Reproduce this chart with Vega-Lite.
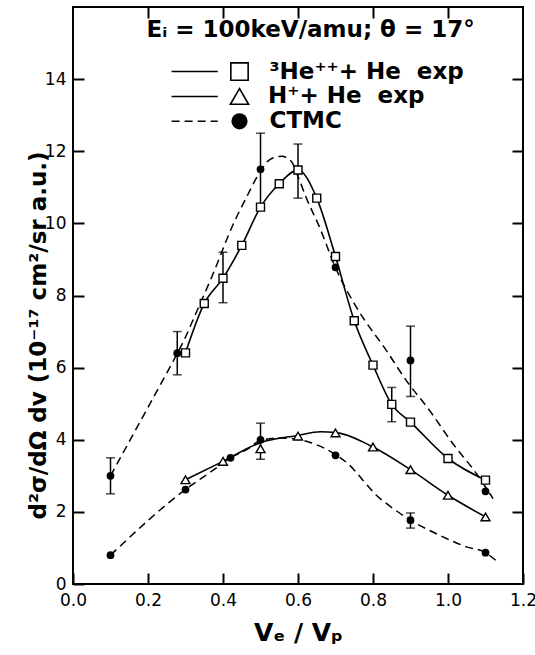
{
  "$schema": "https://vega.github.io/schema/vega-lite/v6.json",
  "width": 450,
  "height": 577,
  "autosize": {"type": "none"},
  "padding": {"left": 73, "top": 7, "right": 12, "bottom": 71},
  "background": "white",
  "config": {
    "font": "DejaVu Sans",
    "view": {"stroke": "black", "strokeWidth": 2},
    "axis": {
      "domain": false, "grid": false,
      "tickColor": "black", "tickWidth": 2, "tickSize": -11,
      "labelColor": "black", "labelFont": "DejaVu Sans", "labelFontSize": 17,
      "titleColor": "black", "titleFont": "DejaVu Sans",
      "labelFlush": false, "labelOverlap": false
    }
  },
  "datasets": {
    "he3": [
      {"v": 0.3, "s": 6.41}, {"v": 0.35, "s": 7.78}, {"v": 0.4, "s": 8.48}, {"v": 0.45, "s": 9.39},
      {"v": 0.5, "s": 10.45}, {"v": 0.55, "s": 11.1}, {"v": 0.6, "s": 11.48}, {"v": 0.65, "s": 10.7},
      {"v": 0.7, "s": 9.08}, {"v": 0.75, "s": 7.3}, {"v": 0.8, "s": 6.07}, {"v": 0.85, "s": 4.98},
      {"v": 0.9, "s": 4.49}, {"v": 1.0, "s": 3.48}, {"v": 1.1, "s": 2.88}
    ],
    "h": [
      {"v": 0.3, "s": 2.89}, {"v": 0.4, "s": 3.4}, {"v": 0.5, "s": 3.75}, {"v": 0.6, "s": 4.1},
      {"v": 0.7, "s": 4.19}, {"v": 0.8, "s": 3.8}, {"v": 0.9, "s": 3.17}, {"v": 1.0, "s": 2.46},
      {"v": 1.1, "s": 1.86}
    ],
    "h_curve": [
      {"v": 0.3, "s": 2.89}, {"v": 0.4, "s": 3.4}, {"v": 0.5, "s": 3.92}, {"v": 0.6, "s": 4.12},
      {"v": 0.66, "s": 4.22}, {"v": 0.7, "s": 4.2}, {"v": 0.8, "s": 3.8}, {"v": 0.9, "s": 3.17},
      {"v": 1.0, "s": 2.46}, {"v": 1.1, "s": 1.86}
    ],
    "ctmc": [
      {"v": 0.1, "s": 3.0}, {"v": 0.278, "s": 6.4}, {"v": 0.5, "s": 11.5}, {"v": 0.7, "s": 8.78},
      {"v": 0.9, "s": 6.2}, {"v": 1.1, "s": 2.57},
      {"v": 0.1, "s": 0.8}, {"v": 0.3, "s": 2.62}, {"v": 0.42, "s": 3.5}, {"v": 0.5, "s": 4.0},
      {"v": 0.7, "s": 3.57}, {"v": 0.9, "s": 1.77}, {"v": 1.1, "s": 0.87}
    ],
    "ctmc_hi": [
      {"v": 0.1, "s": 3.0}, {"v": 0.15, "s": 3.95}, {"v": 0.2, "s": 4.9}, {"v": 0.25, "s": 5.85},
      {"v": 0.3, "s": 6.85}, {"v": 0.325, "s": 7.44}, {"v": 0.373, "s": 8.59}, {"v": 0.427, "s": 9.97},
      {"v": 0.462, "s": 10.71}, {"v": 0.5, "s": 11.45}, {"v": 0.525, "s": 11.77}, {"v": 0.556, "s": 11.86},
      {"v": 0.582, "s": 11.72}, {"v": 0.6, "s": 11.3}, {"v": 0.622, "s": 10.71}, {"v": 0.658, "s": 9.88},
      {"v": 0.7, "s": 8.77}, {"v": 0.756, "s": 7.67}, {"v": 0.836, "s": 6.47}, {"v": 0.889, "s": 5.64},
      {"v": 0.951, "s": 4.81}, {"v": 1.013, "s": 3.89}, {"v": 1.076, "s": 3.06}, {"v": 1.12, "s": 2.37}
    ],
    "ctmc_lo": [
      {"v": 0.1, "s": 0.8}, {"v": 0.3, "s": 2.62}, {"v": 0.373, "s": 3.15}, {"v": 0.42, "s": 3.5},
      {"v": 0.462, "s": 3.72}, {"v": 0.5, "s": 3.98}, {"v": 0.55, "s": 4.05}, {"v": 0.587, "s": 4.03},
      {"v": 0.631, "s": 3.93}, {"v": 0.7, "s": 3.59}, {"v": 0.738, "s": 3.29}, {"v": 0.773, "s": 2.88},
      {"v": 0.809, "s": 2.46}, {"v": 0.845, "s": 2.16}, {"v": 0.9, "s": 1.77}, {"v": 0.978, "s": 1.35},
      {"v": 1.049, "s": 1.03}, {"v": 1.1, "s": 0.87}, {"v": 1.129, "s": 0.64}
    ],
    "err": [
      {"v": 0.1, "lo": 2.5, "hi": 3.5}, {"v": 0.278, "lo": 5.8, "hi": 7.0}, {"v": 0.5, "lo": 10.5, "hi": 12.5},
      {"v": 0.9, "lo": 5.2, "hi": 7.15}, {"v": 0.4, "lo": 7.8, "hi": 9.2}, {"v": 0.6, "lo": 10.7, "hi": 12.2},
      {"v": 0.85, "lo": 4.5, "hi": 5.45}, {"v": 0.5, "lo": 3.46, "hi": 4.46}, {"v": 0.9, "lo": 1.55, "hi": 1.97}
    ],
    "one": [{"n": 1}]
  },
  "resolve": {"axis": {"x": "independent", "y": "independent"}},
  "layer": [
    {
      "data": {"name": "he3"},
      "mark": {"type": "line", "interpolate": "monotone", "color": "black", "strokeWidth": 1.6},
      "encoding": {
        "x": {"field": "v", "type": "quantitative", "scale": {"domain": [0, 1.2], "nice": false, "zero": false},
          "axis": {"orient": "bottom", "values": [0, 0.2, 0.4, 0.6, 0.8, 1.0, 1.2], "format": ".1f",
            "labelPadding": 19, "title": "Vₑ / Vₚ", "titleFontSize": 25, "titleFontWeight": "bold",
            "titleX": 225, "titleY": 56, "titleBaseline": "alphabetic"}},
        "y": {"field": "s", "type": "quantitative", "scale": {"domain": [0, 16], "nice": false, "zero": false},
          "axis": {"orient": "left", "values": [0, 2, 4, 6, 8, 10, 12, 14], "labelPadding": 18,
            "title": "d²σ/dΩ dv (10⁻¹⁷ cm²/sr a.u.)", "titleFontSize": 23, "titleFontWeight": "bold",
            "titleX": -28, "titleY": 328, "titleBaseline": "alphabetic", "titleAngle": -90}}
      }
    },
    {
      "data": {"name": "h_curve"},
      "mark": {"type": "line", "interpolate": "monotone", "color": "black", "strokeWidth": 1.6},
      "encoding": {
        "x": {"field": "v", "type": "quantitative",
          "axis": {"orient": "top", "values": [0.2, 0.4, 0.6, 0.8, 1.0], "labels": false, "title": null}},
        "y": {"field": "s", "type": "quantitative",
          "axis": {"orient": "right", "values": [2, 4, 6, 8, 10, 12, 14], "labels": false, "title": null}}
      }
    },
    {
      "data": {"name": "ctmc_hi"},
      "mark": {"type": "line", "interpolate": "monotone", "color": "black", "strokeWidth": 1.5, "strokeDash": [8, 5]},
      "encoding": {
        "x": {"field": "v", "type": "quantitative", "axis": null},
        "y": {"field": "s", "type": "quantitative", "axis": null}
      }
    },
    {
      "data": {"name": "ctmc_lo"},
      "mark": {"type": "line", "interpolate": "monotone", "color": "black", "strokeWidth": 1.5, "strokeDash": [8, 5]},
      "encoding": {
        "x": {"field": "v", "type": "quantitative", "axis": null},
        "y": {"field": "s", "type": "quantitative", "axis": null}
      }
    },
    {
      "data": {"name": "err"},
      "mark": {"type": "errorbar", "color": "black", "ticks": {"size": 9, "thickness": 1.5}, "rule": {"strokeWidth": 1.5}},
      "encoding": {
        "x": {"field": "v", "type": "quantitative", "axis": null},
        "y": {"field": "lo", "type": "quantitative", "axis": null},
        "y2": {"field": "hi"}
      }
    },
    {
      "data": {"name": "he3"},
      "mark": {"type": "point", "shape": "square", "size": 64, "filled": true, "fill": "white", "stroke": "black", "strokeWidth": 1.4, "opacity": 1},
      "encoding": {
        "x": {"field": "v", "type": "quantitative", "axis": null},
        "y": {"field": "s", "type": "quantitative", "axis": null}
      }
    },
    {
      "data": {"name": "h"},
      "mark": {"type": "point", "shape": "triangle-up", "size": 80, "filled": true, "fill": "white", "stroke": "black", "strokeWidth": 1.4, "opacity": 1},
      "encoding": {
        "x": {"field": "v", "type": "quantitative", "axis": null},
        "y": {"field": "s", "type": "quantitative", "axis": null}
      }
    },
    {
      "data": {"name": "ctmc"},
      "mark": {"type": "point", "shape": "circle", "size": 60, "filled": true, "color": "black", "opacity": 1},
      "encoding": {
        "x": {"field": "v", "type": "quantitative", "axis": null},
        "y": {"field": "s", "type": "quantitative", "axis": null}
      }
    },
    {
      "data": {"name": "one"},
      "mark": {"type": "text", "align": "left", "baseline": "middle", "fontSize": 23, "fontWeight": "bold", "color": "black"},
      "encoding": {"x": {"datum": 0.196, "axis": null}, "y": {"datum": 15.35, "axis": null}, "text": {"value": "Eᵢ = 100keV/amu; θ = 17°"}}
    },
    {
      "data": {"name": "one"},
      "mark": {"type": "rule", "color": "black", "strokeWidth": 1.5},
      "encoding": {"x": {"datum": 0.263, "axis": null}, "x2": {"datum": 0.386}, "y": {"datum": 14.21, "axis": null}}
    },
    {
      "data": {"name": "one"},
      "mark": {"type": "rule", "color": "black", "strokeWidth": 1.5},
      "encoding": {"x": {"datum": 0.263, "axis": null}, "x2": {"datum": 0.386}, "y": {"datum": 13.52, "axis": null}}
    },
    {
      "data": {"name": "one"},
      "mark": {"type": "rule", "color": "black", "strokeWidth": 1.5, "strokeDash": [8, 5]},
      "encoding": {"x": {"datum": 0.263, "axis": null}, "x2": {"datum": 0.386}, "y": {"datum": 12.83, "axis": null}}
    },
    {
      "data": {"name": "one"},
      "mark": {"type": "point", "shape": "square", "size": 300, "filled": true, "fill": "white", "stroke": "black", "strokeWidth": 1.6, "opacity": 1},
      "encoding": {"x": {"datum": 0.444, "axis": null}, "y": {"datum": 14.21, "axis": null}}
    },
    {
      "data": {"name": "one"},
      "mark": {"type": "point", "shape": "triangle-up", "size": 330, "filled": true, "fill": "white", "stroke": "black", "strokeWidth": 1.6, "opacity": 1},
      "encoding": {"x": {"datum": 0.444, "axis": null}, "y": {"datum": 13.52, "axis": null}}
    },
    {
      "data": {"name": "one"},
      "mark": {"type": "point", "shape": "circle", "size": 260, "filled": true, "color": "black", "opacity": 1},
      "encoding": {"x": {"datum": 0.444, "axis": null}, "y": {"datum": 12.83, "axis": null}}
    },
    {
      "data": {"name": "one"},
      "mark": {"type": "text", "align": "left", "baseline": "middle", "fontSize": 23, "fontWeight": "bold", "color": "black"},
      "encoding": {"x": {"datum": 0.524, "axis": null}, "y": {"datum": 14.21, "axis": null}, "text": {"value": "³He⁺⁺+ He \u00a0exp"}}
    },
    {
      "data": {"name": "one"},
      "mark": {"type": "text", "align": "left", "baseline": "middle", "fontSize": 23, "fontWeight": "bold", "color": "black"},
      "encoding": {"x": {"datum": 0.52, "axis": null}, "y": {"datum": 13.52, "axis": null}, "text": {"value": "H⁺+ He \u00a0exp"}}
    },
    {
      "data": {"name": "one"},
      "mark": {"type": "text", "align": "left", "baseline": "middle", "fontSize": 23, "fontWeight": "bold", "color": "black"},
      "encoding": {"x": {"datum": 0.524, "axis": null}, "y": {"datum": 12.83, "axis": null}, "text": {"value": "CTMC"}}
    }
  ]
}
